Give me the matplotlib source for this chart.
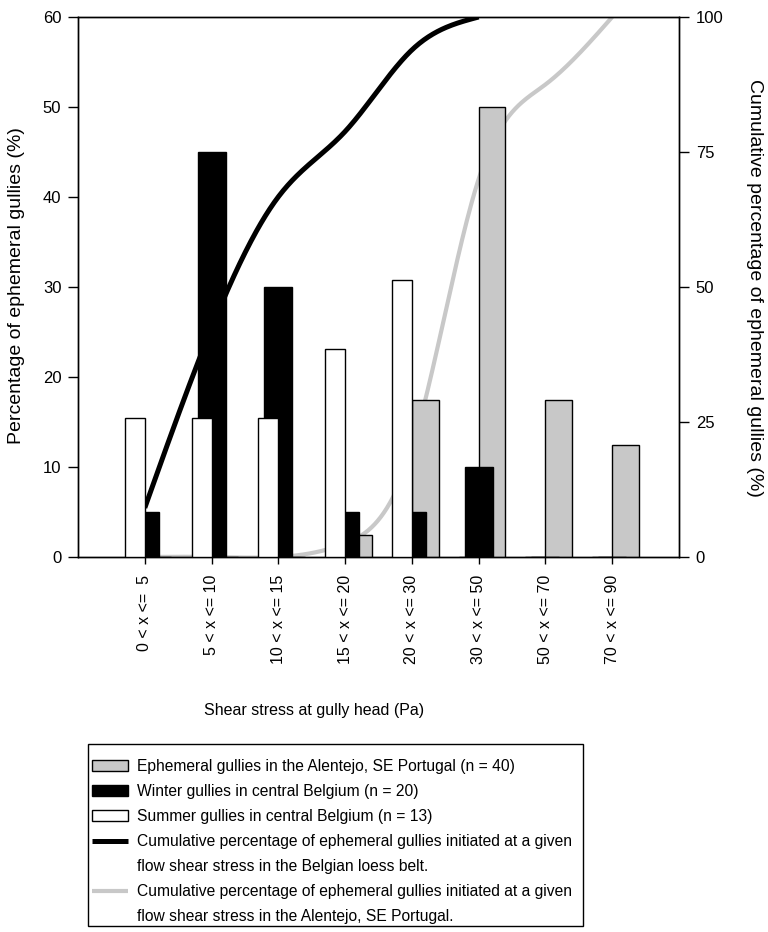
import numpy as np
import matplotlib.pyplot as plt
from matplotlib.lines import Line2D
from matplotlib.patches import Rectangle

plt.rcParams['font.family'] = ['Liberation Sans', 'DejaVu Sans']

categories = ["0 < x <=  5", "5 < x <= 10", "10 < x <= 15", "15 < x <= 20",
              "20 < x <= 30", "30 < x <= 50", "50 < x <= 70", "70 < x <= 90"]
summer = [15.4, 15.4, 15.4, 23.1, 30.8, 0, 0, 0]      # Belgium, summer (%)
winter = [5, 45, 30, 5, 5, 10, 0, 0]                  # Belgium, winter (%)
portugal = [0, 0, 0, 2.5, 17.5, 50, 17.5, 12.5]       # Alentejo (%)
cum_belgium = [9.1, 42.4, 66.7, 78.8, 93.9, 100]
cum_portugal = [0, 0, 0, 2.5, 20, 70, 87.5, 100]


def spline(xk, yk, num=300):  # natural cubic spline, just for drawing the curves
    xk = np.asarray(xk, float)
    yk = np.asarray(yk, float)
    n = len(xk)
    h = np.diff(xk)
    A = np.zeros((n, n))
    b = np.zeros(n)
    A[0, 0] = A[-1, -1] = 1
    for i in range(1, n - 1):
        A[i, i - 1] = h[i - 1]
        A[i, i] = 2 * (h[i - 1] + h[i])
        A[i, i + 1] = h[i]
        b[i] = 6 * ((yk[i + 1] - yk[i]) / h[i] - (yk[i] - yk[i - 1]) / h[i - 1])
    M = np.linalg.solve(A, b)
    xs = np.linspace(xk[0], xk[-1], num)
    j = np.clip(np.searchsorted(xk, xs) - 1, 0, n - 2)
    x0, x1 = xk[j], xk[j + 1]
    hh = x1 - x0
    t0, t1 = xs - x0, x1 - xs
    ys = (M[j] * t1**3 + M[j + 1] * t0**3) / (6 * hh) \
        + (yk[j] / hh - M[j] * hh / 6) * t1 + (yk[j + 1] / hh - M[j + 1] * hh / 6) * t0
    return xs, ys


x = np.arange(len(categories))
grey = '#c8c8c8'

fig = plt.figure(figsize=(7.68, 9.32), dpi=100)
ax = fig.add_axes([78/768, 1 - 557/932, 601/768, 540/932])
ax2 = ax.twinx()
ax.set_zorder(ax2.get_zorder() + 1)   # lines behind the bars
ax.patch.set_visible(False)

b_grey = ax.bar(x, portugal, width=0.4, align='edge', color=grey, edgecolor='black', lw=1, zorder=2)
b_black = ax.bar(x, winter, width=0.42, color='black', edgecolor='black', lw=1, zorder=3)
b_white = ax.bar(x - 0.3, summer, width=0.3, align='edge', color='white', edgecolor='black', lw=1, zorder=4)

xs, ys = spline(x[:len(cum_belgium)], cum_belgium)
l_black, = ax2.plot(xs, ys, color='black', lw=3.6, solid_capstyle='butt')
xs, ys = spline(x, cum_portugal)
l_grey, = ax2.plot(xs, ys, color=grey, lw=3, solid_capstyle='butt')

ax.set_xlim(-1, 8)
ax.set_ylim(0, 60)
ax2.set_ylim(0, 100)
ax.set_yticks(range(0, 61, 10))
ax2.set_yticks([0, 25, 50, 75, 100])
ax.set_xticks(x)
ax.set_xticklabels(categories, rotation=90)
ax.tick_params(axis='y', direction='out', length=7, width=1, labelsize=12, pad=5)
ax2.tick_params(axis='y', direction='out', length=7, width=1, labelsize=12, pad=5)
ax.tick_params(axis='x', direction='out', length=5, width=1, labelsize=11.5, pad=8)
for a in (ax, ax2):
    for s in a.spines.values():
        s.set_linewidth(1)

fig.text(17/768, 1 - 286/932, 'Percentage of ephemeral gullies (%)', rotation=90,
         ha='center', va='center', fontsize=14)
fig.text(755/768, 1 - 288/932, 'Cumulative percentage of ephemeral gullies (%)', rotation=270,
         ha='center', va='center', fontsize=14)
fig.text(314/768, 1 - 710/932, 'Shear stress at gully head (Pa)', ha='center', va='center', fontsize=11.5)

# legend box drawn separately so its padding can match the original
fig.add_artist(Rectangle((88/768, 1 - 926/932), 495/768, 182/932, transform=fig.transFigure,
                         facecolor='white', edgecolor='black', lw=1))
blank = Line2D([], [], color='none')
handles = [b_grey, b_black, b_white, l_black, blank, l_grey, blank]
labels = ['Ephemeral gullies in the Alentejo, SE Portugal (n = 40)',
          'Winter gullies in central Belgium (n = 20)',
          'Summer gullies in central Belgium (n = 13)',
          'Cumulative percentage of ephemeral gullies initiated at a given',
          'flow shear stress in the Belgian loess belt.',
          'Cumulative percentage of ephemeral gullies initiated at a given',
          'flow shear stress in the Alentejo, SE Portugal.']
leg = fig.legend(handles, labels, loc='upper left', bbox_to_anchor=(92/768, 1 - 759/932),
                 bbox_transform=fig.transFigure, borderaxespad=0, borderpad=0, fontsize=11.25,
                 frameon=False, handlelength=2.3, handletextpad=0.57, labelspacing=0.64)

fig.savefig('out.png', dpi=100)
